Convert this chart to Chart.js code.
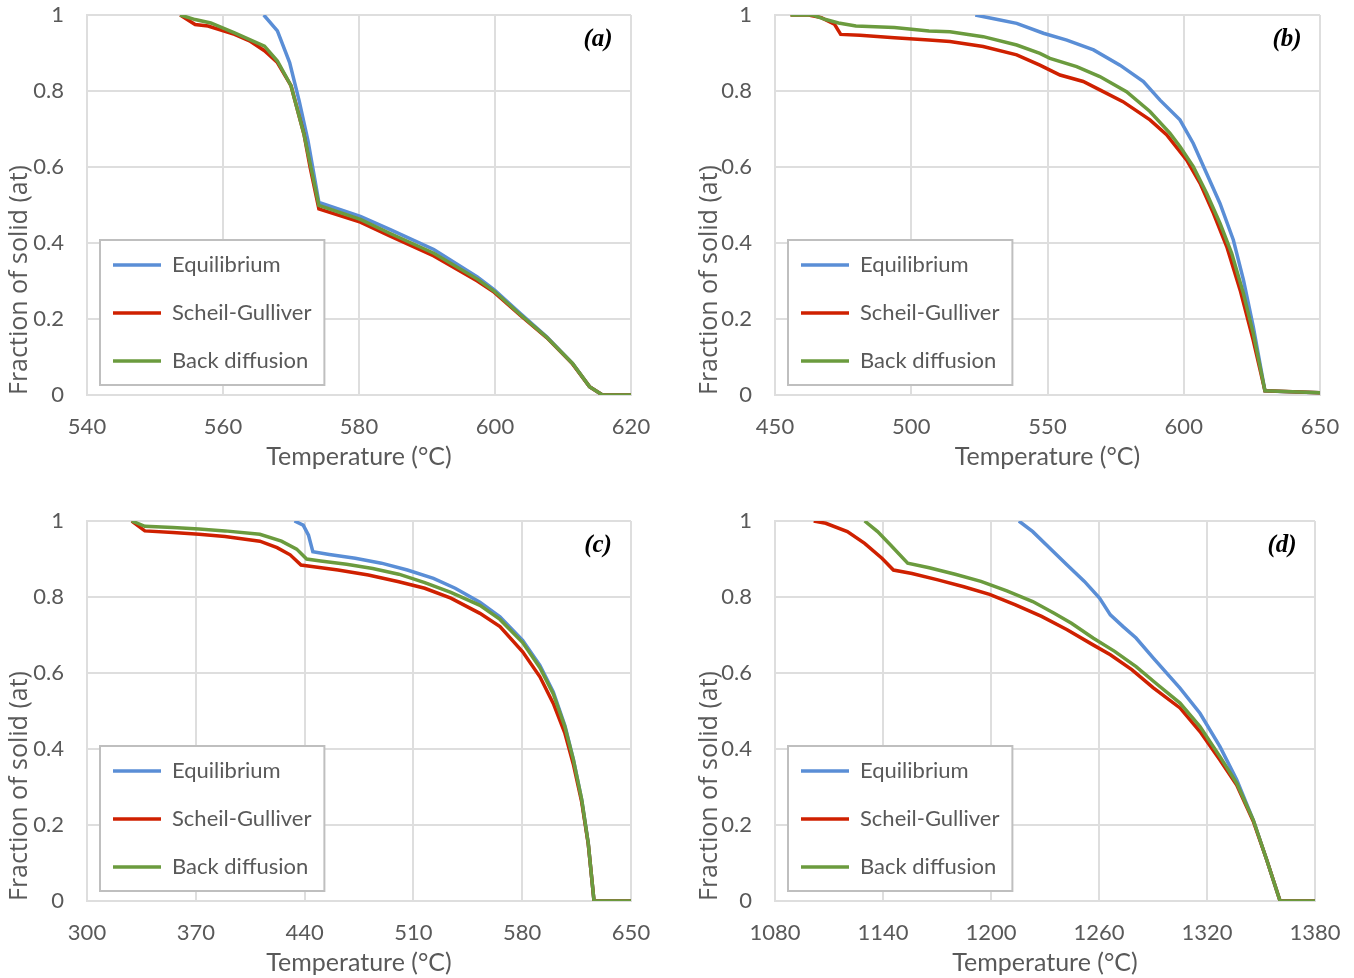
<!DOCTYPE html>
<html>
<head>
<meta charset="utf-8">
<script src="https://cdn.jsdelivr.net/npm/chart.js@4"></script>
<style>
  body { margin: 0; background: #fff; }
  .grid { display: grid; grid-template-columns: 677px 677px; grid-template-rows: 506px 472px; }
  canvas { display: block; }
</style>
</head>
<body>
<div class="grid">
  <div><canvas id="chartA" width="677" height="506"></canvas></div>
  <div><canvas id="chartB" width="677" height="506"></canvas></div>
  <div><canvas id="chartC" width="677" height="472"></canvas></div>
  <div><canvas id="chartD" width="677" height="472"></canvas></div>
</div>
<script>
const seriesNames = ['Equilibrium', 'Scheil-Gulliver', 'Back diffusion'];
const yTicks = [0, 0.2, 0.4, 0.6, 0.8, 1];

// (a)
const aEqT = [566, 568, 569.8, 571.2, 572.5, 574.1, 580.2, 584.6, 591, 597.4, 599.9, 603.7, 607.6, 611.4, 613.9, 615.8, 620];
const aEqF = [1, 0.958, 0.875, 0.774, 0.669, 0.507, 0.47, 0.435, 0.383, 0.311, 0.277, 0.215, 0.153, 0.083, 0.022, 0, 0];
const aScT = [553.7, 555.9, 557.8, 561.7, 563.9, 566.1, 568, 570, 571.9, 572.8, 574.1, 580.2, 584.6, 591, 597.4, 599.9, 603.7, 607.6, 611.4, 613.9, 615.8, 620];
const aScF = [1, 0.975, 0.971, 0.949, 0.932, 0.906, 0.875, 0.814, 0.687, 0.6, 0.49, 0.455, 0.418, 0.366, 0.3, 0.27, 0.21, 0.151, 0.082, 0.022, 0, 0];
const aBdT = [553.7, 555.9, 558.2, 561.7, 566.1, 568, 570, 571.9, 574.1, 580.2, 584.6, 591, 597.4, 599.9, 603.7, 607.6, 611.4, 613.9, 615.8, 620];
const aBdF = [1, 0.988, 0.979, 0.953, 0.918, 0.879, 0.814, 0.687, 0.499, 0.462, 0.425, 0.373, 0.305, 0.273, 0.212, 0.152, 0.083, 0.022, 0, 0];

// (b)
const bEqT = [523.5, 531.7, 538.7, 548.5, 557.1, 566.9, 576.6, 585.2, 591.3, 598.6, 603.5, 608.4, 613.3, 618.2, 621.9, 625.5, 629.8, 635.8, 650];
const bEqF = [1, 0.988, 0.978, 0.952, 0.934, 0.908, 0.868, 0.825, 0.776, 0.724, 0.662, 0.583, 0.504, 0.408, 0.303, 0.18, 0.011, 0.009, 0.006];
const bScT = [455.7, 462.3, 467, 471.8, 474.1, 481.2, 493.8, 506.5, 514.2, 526.4, 538.7, 547.2, 550.9, 554.6, 563.1, 569.2, 577.7, 587.6, 593.7, 601.1, 606, 610.9, 615.8, 620.7, 625.5, 629.8, 650];
const bScF = [1, 1, 0.993, 0.976, 0.949, 0.947, 0.94, 0.934, 0.93, 0.917, 0.895, 0.868, 0.855, 0.842, 0.825, 0.803, 0.772, 0.724, 0.685, 0.618, 0.557, 0.478, 0.39, 0.276, 0.144, 0.011, 0.006];
const bBdT = [455.7, 463.9, 468.6, 473.3, 479.7, 493.8, 506.5, 514.2, 526.4, 538.7, 547.2, 550.9, 560.7, 569.2, 579, 587.6, 594.9, 598.6, 603.5, 608.4, 613.3, 617.6, 621.9, 625.5, 629.8, 650];
const bBdF = [1, 1, 0.988, 0.979, 0.971, 0.967, 0.958, 0.956, 0.943, 0.921, 0.899, 0.886, 0.864, 0.838, 0.798, 0.746, 0.689, 0.654, 0.601, 0.531, 0.452, 0.373, 0.267, 0.162, 0.011, 0.006];

// (c)
const cEqT = [433.5, 439.1, 442.5, 445.3, 455.9, 472.6, 489.4, 506.1, 522.9, 536.9, 552.8, 565.7, 580.3, 591.4, 600, 607.5, 612.9, 618.3, 622.5, 626.2, 650];
const cEqF = [1, 0.989, 0.963, 0.919, 0.912, 0.902, 0.889, 0.871, 0.849, 0.823, 0.786, 0.748, 0.686, 0.62, 0.55, 0.461, 0.373, 0.266, 0.152, 0, 0];
const cScT = [328.8, 337.2, 355.3, 372.1, 388.8, 411.2, 422.3, 430.7, 437.7, 444.7, 461.5, 481, 500.6, 517.3, 534.1, 552.8, 565.7, 580.3, 591.4, 600, 607.5, 612.9, 618.3, 622.5, 626.2, 650];
const cScF = [1, 0.974, 0.97, 0.965, 0.959, 0.947, 0.93, 0.911, 0.884, 0.88, 0.871, 0.858, 0.84, 0.823, 0.797, 0.757, 0.722, 0.656, 0.59, 0.52, 0.441, 0.36, 0.26, 0.15, 0, 0];
const cBdT = [328.8, 337.2, 355.3, 372.1, 388.8, 411.2, 425.1, 434.9, 441.3, 450.3, 467, 483.8, 500.6, 517.3, 534.1, 552.8, 565.7, 580.3, 591.4, 600, 607.5, 612.9, 618.3, 622.5, 626.2, 650];
const cBdF = [1, 0.986, 0.983, 0.979, 0.974, 0.965, 0.947, 0.926, 0.9, 0.895, 0.886, 0.875, 0.86, 0.838, 0.812, 0.778, 0.741, 0.68, 0.614, 0.545, 0.458, 0.372, 0.266, 0.152, 0, 0];

// (d)
const dEqT = [1215.5, 1223.2, 1232.7, 1242.3, 1251.9, 1260.3, 1266.3, 1273.4, 1280.6, 1290.2, 1305, 1316.1, 1327.2, 1336.5, 1345.7, 1353.2, 1360.6, 1380];
const dEqF = [1, 0.972, 0.928, 0.884, 0.841, 0.797, 0.753, 0.722, 0.692, 0.639, 0.56, 0.494, 0.406, 0.319, 0.213, 0.108, 0, 0];
const dScT = [1101.5, 1108.2, 1120.2, 1129.8, 1139.4, 1145.8, 1156.1, 1170.5, 1184.9, 1199.2, 1213.6, 1228.1, 1242.3, 1256.7, 1266.3, 1278.2, 1290.2, 1305, 1316.1, 1327.2, 1336.5, 1345.7, 1353.2, 1360.6, 1380];
const dScF = [1, 0.994, 0.972, 0.941, 0.902, 0.871, 0.862, 0.845, 0.827, 0.807, 0.779, 0.749, 0.714, 0.674, 0.648, 0.609, 0.561, 0.508, 0.446, 0.371, 0.305, 0.21, 0.108, 0, 0];
const dBdT = [1129.8, 1137, 1144.2, 1153.7, 1165.7, 1180.1, 1194.4, 1208.8, 1223.2, 1235.1, 1244.7, 1256.7, 1268.7, 1280.6, 1292.6, 1305, 1316.1, 1327.2, 1336.5, 1345.7, 1353.2, 1360.6, 1380];
const dBdF = [1, 0.972, 0.937, 0.889, 0.877, 0.86, 0.841, 0.816, 0.788, 0.757, 0.731, 0.692, 0.657, 0.617, 0.569, 0.521, 0.459, 0.38, 0.31, 0.213, 0.108, 0, 0];

const colors = ['#5a8ed6', '#cf2000', '#6b9b3e'];
const textColor = '#595959';
const gridColor = '#dedede';
const font = 'Lato';

function pts(t, f) {
    return t.map((x, i) => ({x: x, y: f[i]}));
}

//boite blanche + bordure derrière la légende, puis on redessine la légende
const legendBox = {
    id: 'legendBox',
    afterLayout(chart) {
        // la légende "chartArea" se cale sur le bas de la zone du graphique
        chart.legend.top = chart.chartArea.top;
        chart.legend.bottom = chart.chartArea.bottom + 3;
    },
    afterDatasetsDraw(chart) {
        const boxes = chart.legend.legendHitBoxes;
        if (!boxes || !boxes.length) return;
        const left = Math.min(...boxes.map(b => b.left)) - 13;
        const right = Math.max(...boxes.map(b => b.left + b.width)) + 13;
        const top = boxes[0].top - 14;
        const bottom = boxes[boxes.length - 1].top + boxes[boxes.length - 1].height + 13;
        const ctx = chart.ctx;
        ctx.save();
        ctx.fillStyle = '#fff';
        ctx.fillRect(left, top, right - left, bottom - top);
        ctx.strokeStyle = '#bfbfbf';
        ctx.lineWidth = 2;
        ctx.strokeRect(left, top, right - left, bottom - top);
        ctx.restore();
        chart.legend.draw();
    }
};

const panelLabel = {
    id: 'panelLabel',
    afterDraw(chart, args, opts) {
        const ctx = chart.ctx;
        ctx.save();
        ctx.font = 'italic bold 25px "Liberation Serif"';
        ctx.fillStyle = '#000';
        ctx.textAlign = 'center';
        ctx.textBaseline = 'middle';
        ctx.fillText(opts.text, chart.chartArea.right - 33, chart.chartArea.top + 25);
        ctx.restore();
    }
};

function makeChart(id, letter, xMin, xMax, xStep, eqT, eqF, scT, scF, bdT, bdF, yWidth, rightPad, bottomPad, yTitlePad) {
    const ctx = document.getElementById(id);
    const series = [pts(eqT, eqF), pts(scT, scF), pts(bdT, bdF)];

    new Chart(ctx, {
        type: 'scatter',
        data: {
            datasets: series.map((d, i) => ({
                label: seriesNames[i],
                data: d,
                showLine: true,
                borderColor: colors[i],
                backgroundColor: colors[i],
                borderWidth: 3.5,
                pointRadius: 0,
                tension: 0,
                order: 3 - i,
            }))
        },
        options: {
            responsive: false,
            animation: false,
            layout: {
                padding: {top: 15, right: rightPad, bottom: bottomPad, left: 0}
            },
            scales: {
                x: {
                    type: 'linear',
                    min: xMin,
                    max: xMax,
                    afterBuildTicks: (scale) => {
                        const ticks = [];
                        for (let v = xMin; v <= xMax; v += xStep) ticks.push({value: v});
                        scale.ticks = ticks;
                    },
                    afterFit: (scale) => {
                        scale.height = 77;
                        scale.paddingLeft = 0;
                        scale.paddingRight = 0;
                    },
                    grid: {color: gridColor, lineWidth: 2, drawTicks: false},
                    border: {color: gridColor, width: 2},
                    ticks: {
                        padding: 19,
                        color: textColor,
                        font: {family: font, size: 22},
                        callback: (v) => String(v),
                    },
                    title: {
                        display: true,
                        text: 'Temperature (°C)',
                        color: textColor,
                        font: {family: font, size: 25},
                        padding: {top: 0, bottom: 0},
                    }
                },
                y: {
                    min: 0,
                    max: 1,
                    afterBuildTicks: (scale) => { scale.ticks = yTicks.map(v => ({value: v})); },
                    afterFit: (scale) => {
                        scale.width = yWidth;
                        scale.paddingTop = 0;
                        scale.paddingBottom = 0;
                    },
                    grid: {color: gridColor, lineWidth: 2, drawTicks: false},
                    border: {color: gridColor, width: 2},
                    ticks: {
                        padding: 23,
                        color: textColor,
                        font: {family: font, size: 22},
                        callback: (v) => String(+v.toFixed(1)),
                    },
                    title: {
                        display: true,
                        text: 'Fraction of solid (at)',
                        align: 'start',
                        color: textColor,
                        font: {family: 'Open Sans', size: 25},
                        padding: {top: yTitlePad, bottom: 0},
                    }
                }
            },
            plugins: {
                legend: {
                    position: 'chartArea',
                    align: 'end',
                    reverse: true,
                    labels: {
                        usePointStyle: true,
                        pointStyle: 'line',
                        pointStyleWidth: 48,
                        boxHeight: 21,
                        padding: 26,
                        color: textColor,
                        font: {family: font, size: 22},
                    }
                },
                tooltip: {enabled: false},
                panelLabel: {text: letter}
            }
        },
        plugins: [legendBox, panelLabel]
    });
}

makeChart('chartA', '(a)', 540, 620, 20, aEqT, aEqF, aScT, aScF, aBdT, aBdF, 87, 46, 34, 5);
makeChart('chartB', '(b)', 450, 650, 50, bEqT, bEqF, bScT, bScF, bBdT, bBdF, 98, 34, 34, 18);
makeChart('chartC', '(c)', 300, 650, 70, cEqT, cEqF, cScT, cScF, cBdT, cBdF, 87, 46, 0, 5);
makeChart('chartD', '(d)', 1080, 1380, 60, dEqT, dEqF, dScT, dScF, dBdT, dBdF, 98, 39, 0, 18);
</script>
</body>
</html>
